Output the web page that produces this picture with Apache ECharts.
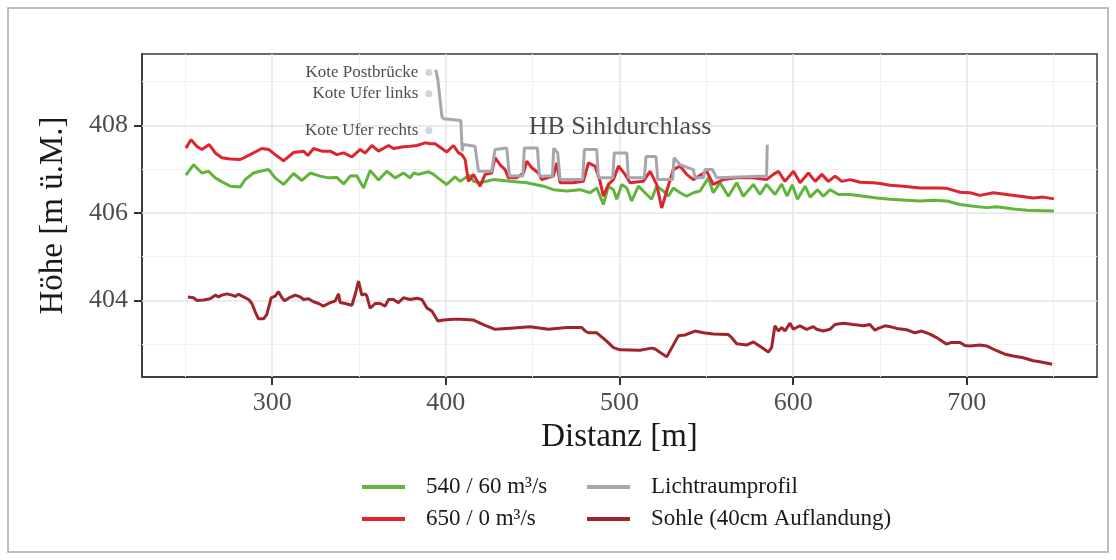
<!DOCTYPE html>
<html>
<head>
<meta charset="utf-8">
<script src="https://cdn.jsdelivr.net/npm/echarts@6.0.0/dist/echarts.min.js"></script>
<style>
  html, body { margin: 0; padding: 0; background: #fff; }
  #main { width: 1116px; height: 560px; }
</style>
</head>
<body>
<div id="main"></div>
<script>
// Distanz [m] / Höhe [m ü.M.]
var green540 = [
  [250.3,406.86],[254.7,407.10],[259.5,406.91],[263.3,406.95],[267.2,406.80],[272.0,406.69],[275.8,406.61],
  [281.6,406.59],[284.4,406.76],[289.2,406.91],[293.1,406.95],[297.9,406.99],[301.7,406.80],[306.5,406.65],
  [312.3,406.90],[317.1,406.74],[321.9,406.91],[327.6,406.84],[332.4,406.80],[337.2,406.81],[341.1,406.66],
  [344.9,406.84],[348.7,406.85],[352.6,406.57],[356.4,406.97],[361.2,406.75],[366.0,406.95],[370.8,406.80],
  [375.6,406.91],[379.4,406.80],[381.4,406.91],[384.2,406.88],[387.1,406.91],[390.0,406.94],[392.9,406.88],
  [396.7,406.76],[400.5,406.65],[405.3,406.82],[408.2,406.72],[411.1,406.80],[414.0,406.86],[415.9,406.72],
  [419.7,406.69],[427.4,406.76],[437.0,406.72],[446.6,406.69],[456.2,406.61],[461.9,406.53],[469.6,406.50],
  [477.3,406.53],[483.0,406.46],[486.9,406.57],[490.7,406.19],[493.6,406.61],[496.5,406.53],[498.4,406.31],
  [501.3,406.65],[504.2,406.57],[507.0,406.27],[510.9,406.61],[514.7,406.46],[518.5,406.31],[521.4,406.61],
  [525.3,406.50],[528.1,406.38],[531.0,406.57],[534.9,406.46],[538.7,406.38],[542.5,406.46],[546.4,406.50],
  [551.2,406.80],[554.0,406.46],[557.9,406.69],[562.7,406.38],[567.5,406.69],[571.3,406.38],[577.1,406.65],
  [580.9,406.42],[584.7,406.65],[589.6,406.42],[593.4,406.66],[596.5,406.38],[599.5,406.64],[602.5,406.31],
  [606.9,406.61],[609.8,406.36],[614.0,406.53],[617.4,406.38],[621.3,406.53],[626.1,406.42],[632.8,406.42],
  [640.5,406.38],[648.2,406.34],[655.8,406.31],[665.4,406.29],[673.1,406.27],[680.8,406.29],[688.5,406.27],
  [696.1,406.19],[703.8,406.15],[711.5,406.12],[717.2,406.14],[726.8,406.09],[734.5,406.06],[744.1,406.05],
  [750.2,406.04]
];
var red650 = [
  [250.3,407.48],[253.2,407.67],[256.6,407.52],[259.5,407.45],[263.7,407.56],[267.2,407.37],[271.0,407.26],
  [275.8,407.23],[281.6,407.22],[287.3,407.33],[294.0,407.47],[297.9,407.45],[301.7,407.33],[306.5,407.19],
  [312.3,407.38],[318.0,407.41],[320.5,407.31],[323.8,407.47],[328.6,407.41],[333.4,407.41],[337.2,407.33],
  [341.1,407.37],[345.9,407.28],[350.7,407.45],[353.5,407.37],[357.4,407.54],[361.2,407.41],[367.0,407.54],
  [369.8,407.47],[375.6,407.51],[379.4,407.52],[383.3,407.54],[388.1,407.60],[391.0,407.58],[393.8,407.58],
  [396.7,407.50],[400.5,407.39],[404.4,407.54],[407.3,407.37],[409.2,407.33],[411.1,407.22],[413.0,406.72],
  [415.9,406.88],[419.7,406.61],[422.6,406.88],[426.4,406.91],[428.3,407.26],[431.2,407.10],[434.1,406.99],
  [436.0,406.80],[440.8,406.80],[444.7,406.91],[446.6,407.18],[449.5,407.03],[453.3,406.91],[455.2,406.76],
  [461.9,406.84],[463.9,407.14],[465.8,406.69],[473.4,406.69],[479.2,406.72],[482.1,407.14],[485.9,407.07],
  [488.8,406.72],[490.7,406.38],[493.6,406.65],[496.5,406.76],[499.4,407.07],[503.2,406.88],[506.1,406.69],
  [513.7,406.72],[517.6,406.95],[521.4,406.65],[524.3,406.11],[527.2,406.50],[531.0,406.99],[534.9,407.07],
  [538.7,406.88],[542.5,406.76],[550.2,406.95],[554.0,406.65],[559.8,406.76],[567.5,406.80],[577.1,406.80],
  [584.7,406.76],[588.6,406.88],[591.5,406.95],[595.3,406.72],[600.2,406.95],[604.0,406.69],[608.8,406.91],
  [612.7,406.72],[616.5,406.88],[620.3,406.72],[624.2,406.84],[628.0,406.72],[632.8,406.76],[638.6,406.70],
  [646.2,406.69],[650.1,406.67],[655.8,406.63],[663.5,406.61],[673.1,406.57],[682.7,406.57],[688.5,406.56],
  [696.1,406.47],[701.9,406.46],[707.6,406.40],[715.3,406.46],[723.0,406.42],[730.7,406.38],[738.3,406.34],
  [744.1,406.36],[750.2,406.32]
];
var lichtraum = [
  [394.2,409.27],[395.4,409.04],[397.7,408.21],[398.6,408.15],[408.6,408.11],[409.4,407.41],[410.1,407.56],
  [416.8,407.52],[418.8,406.95],[426.4,406.95],[428.3,407.45],[435.1,407.48],[436.6,406.84],[444.3,406.84],
  [445.2,407.48],[452.7,407.48],[453.9,406.84],[461.4,406.84],[462.1,407.48],[464.4,407.37],[465.8,406.76],
  [478.8,406.76],[479.8,407.45],[486.9,407.45],[487.8,406.80],[496.1,406.80],[497.0,407.37],[504.2,407.37],
  [505.1,406.80],[514.3,406.80],[515.3,407.29],[521.0,407.29],[522.0,406.76],[530.6,406.76],[531.4,407.26],
  [534.9,407.10],[542.5,406.99],[543.5,406.80],[548.3,406.80],[549.2,406.99],[553.5,406.99],[556.0,406.80],
  [556.9,406.84],[584.7,406.84],[585.1,407.56]
];
var sohle = [
  [251.4,404.08],[254.7,404.06],[256.6,404.00],[260.5,404.01],[264.3,404.04],[267.2,404.12],[269.1,404.08],
  [271.0,404.12],[273.9,404.15],[276.8,404.12],[278.7,404.09],[280.6,404.14],[283.5,404.08],[286.4,404.02],
  [288.3,403.93],[290.2,403.74],[292.1,403.58],[295.0,403.58],[296.9,403.68],[299.4,404.06],[301.7,404.10],
  [303.6,404.20],[305.6,404.06],[307.1,403.99],[309.4,404.05],[313.2,404.12],[316.1,404.08],[318.0,404.02],
  [320.9,404.04],[323.8,403.97],[326.7,403.93],[329.5,403.87],[332.4,403.93],[336.3,403.99],[338.2,404.15],
  [339.1,403.95],[342.0,403.93],[345.9,403.89],[347.8,404.14],[349.7,404.44],[351.6,404.12],[353.5,404.15],
  [354.5,404.10],[356.4,403.82],[359.3,403.93],[362.2,403.93],[365.0,403.87],[367.0,404.02],[369.8,404.02],
  [372.7,403.95],[375.6,404.06],[379.4,404.02],[383.3,404.05],[386.2,404.02],[389.0,403.83],[391.9,403.76],
  [395.4,403.53],[398.6,403.55],[404.4,403.57],[408.2,403.57],[415.9,403.55],[422.6,403.43],[428.4,403.34],
  [435.1,403.36],[448.5,403.40],[459.1,403.34],[469.6,403.38],[478.3,403.38],[480.2,403.30],[482.1,403.26],
  [486.9,403.26],[492.6,403.07],[496.5,402.92],[500.3,402.87],[511.8,402.86],[518.5,402.91],[520.5,402.89],
  [527.2,402.71],[533.9,403.19],[537.7,403.21],[543.5,403.30],[548.3,403.26],[554.0,403.23],[562.7,403.22],
  [564.6,403.15],[567.5,403.01],[573.2,402.98],[577.1,403.05],[580.9,402.95],[585.7,402.82],[587.6,402.92],
  [589.5,403.42],[591.5,403.30],[593.4,403.38],[595.3,403.30],[598.2,403.48],[600.1,403.34],[603.9,403.42],
  [607.8,403.34],[611.6,403.40],[613.5,403.34],[617.4,403.30],[621.2,403.34],[624.1,403.45],[628.9,403.48],
  [634.6,403.45],[640.4,403.42],[644.2,403.45],[647.1,403.32],[649.0,403.36],[652.9,403.42],[655.8,403.40],
  [659.6,403.36],[665.3,403.33],[670.2,403.26],[674.0,403.30],[678.8,403.23],[682.6,403.15],[688.4,403.00],
  [691.3,403.04],[696.1,403.04],[698.9,402.97],[701.8,402.96],[707.6,402.98],[711.4,402.96],[717.2,402.85],
  [722.0,402.77],[726.8,402.73],[732.5,402.69],[738.3,402.62],[742.1,402.60],[749.2,402.54]
];
var kotePoints = [[390.2,409.21],[390.2,408.72],[390.2,407.88]];
var koteLabels = ['Kote Postbrücke', 'Kote Ufer links', 'Kote Ufer rechts'];
var bridgeLabelPos = [[500.3,407.95]];
var bridgeLabel = 'HB Sihldurchlass';

var xTicks = [300, 400, 500, 600, 700];
var xMinor = [250, 350, 450, 550, 650, 750];
var yTicks = [404, 406, 408];
var yMinor = [403, 405, 407, 409];

var names = ['540 / 60 m³/s', '650 / 0 m³/s', 'Lichtraumprofil', 'Sohle (40cm Auflandung)'];
var colors = ['#62b43a', '#dd2530', '#a6a6ae', '#a0242c'];

var font = '"Liberation Serif", "DejaVu Serif", serif';

var gridLines = [];
xMinor.forEach(function (v) { gridLines.push({ xAxis: v, lineStyle: { type: 'solid', color: '#f1f1f4', width: 1 } }) })
yMinor.forEach(function (v) { gridLines.push({ yAxis: v, lineStyle: { type: 'solid', color: '#f1f1f4', width: 1 } }) })
xTicks.forEach(function (v) { gridLines.push({ xAxis: v, lineStyle: { type: 'solid', color: '#e4e4e9', width: 1.5 } }) })
yTicks.forEach(function (v) { gridLines.push({ yAxis: v, lineStyle: { type: 'solid', color: '#e4e4e9', width: 1.5 } }) })

function lineSeries(i, data) {
  return {
    name: names[i],
    type: 'line',
    data: data,
    showSymbol: false,
    symbol: 'none',
    color: colors[i],
    lineStyle: { color: colors[i], width: 3 },
    z: 3
  }
}

var myChart = echarts.init(document.getElementById('main'));
myChart.setOption({
  animation: false,
  backgroundColor: '#fff',
  textStyle: { fontFamily: font },
  graphic: [{
    type: 'rect',
    shape: { x: 8, y: 8, width: 1100, height: 544 },
    style: { fill: 'none', stroke: '#a8a8a8', lineWidth: 1.5 },
    silent: true
  }],
  grid: {
    left: 142, right: 19, top: 54, bottom: 183,
    show: true, borderColor: '#3a3a3a', borderWidth: 1.5, backgroundColor: '#fff'
  },
  legend: [{
    data: [names[0], names[1]],
    orient: 'vertical',
    left: 357, top: 469,
    icon: 'rect', itemWidth: 43, itemHeight: 4, itemGap: 6,
    textStyle: { fontFamily: font, fontSize: 23, color: '#1a1a1a', lineHeight: 26, padding: [0, 0, 0, 16] }
  }, {
    data: [names[2], names[3]],
    orient: 'vertical',
    left: 582, top: 469,
    icon: 'rect', itemWidth: 43, itemHeight: 4, itemGap: 6,
    textStyle: { fontFamily: font, fontSize: 23, color: '#1a1a1a', lineHeight: 26, padding: [0, 0, 0, 16] }
  }],
  xAxis: {
    type: 'value', min: 225, max: 775,
    name: 'Distanz [m]', nameLocation: 'middle', nameGap: 42,
    nameTextStyle: { fontFamily: font, fontSize: 33, color: '#1a1a1a' },
    axisLine: { show: true, lineStyle: { color: '#333', width: 1.5 } },
    axisTick: { show: true, customValues: xTicks, length: 8, lineStyle: { color: '#333', width: 2 } },
    axisLabel: { customValues: xTicks, fontFamily: font, fontSize: 26, color: '#4d4d4d', margin: 13 },
    splitLine: { show: false }
  },
  yAxis: {
    type: 'value', min: 402.25, max: 409.63,
    name: 'Höhe [m ü.M.]', nameLocation: 'middle', nameGap: 72, nameRotate: 90,
    nameTextStyle: { fontFamily: font, fontSize: 33, color: '#1a1a1a' },
    axisLine: { show: true, lineStyle: { color: '#333', width: 1.5 } },
    axisTick: { show: true, customValues: yTicks, length: 8, lineStyle: { color: '#333', width: 2 } },
    axisLabel: { customValues: yTicks, fontFamily: font, fontSize: 26, color: '#4d4d4d', margin: 14 },
    splitLine: { show: false }
  },
  series: [
    {
      // Gitterlinien
      type: 'line', data: [], silent: true, z: 1,
      markLine: { silent: true, z: 1, symbol: ['none', 'none'], label: { show: false }, animation: false, data: gridLines }
    },
    lineSeries(3, sohle),
    lineSeries(0, green540),
    lineSeries(1, red650),
    lineSeries(2, lichtraum),
    {
      name: 'kote',
      type: 'scatter',
      data: kotePoints,
      symbolSize: 7,
      itemStyle: { color: '#c9c9ce' },
      z: 5,
      label: {
        show: true, position: 'left', distance: 7,
        fontFamily: font, fontSize: 17, color: '#222',
        formatter: function (p) { return koteLabels[p.dataIndex] }
      }
    },
    {
      name: 'title',
      type: 'scatter',
      data: bridgeLabelPos,
      symbolSize: 1,
      itemStyle: { color: 'transparent' },
      z: 5,
      label: {
        show: true, position: 'inside',
        fontFamily: font, fontSize: 26, color: '#1e1e1e',
        formatter: function () { return bridgeLabel }
      }
    }
  ]
})
</script>
</body>
</html>
